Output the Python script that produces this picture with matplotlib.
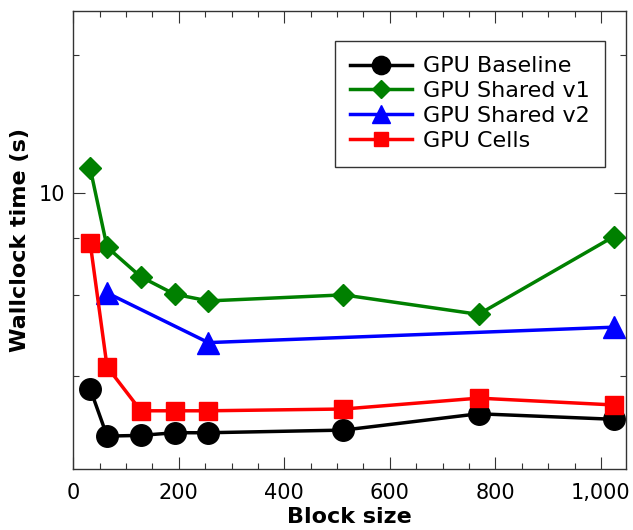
import numpy as np
import matplotlib
matplotlib.use('Agg')
import matplotlib.pyplot as plt
from matplotlib.ticker import LogLocator, NullFormatter, FixedLocator, FuncFormatter, MultipleLocator

# block sizes tested
block_all = [32, 64, 128, 192, 256, 512, 768, 1024]
block_v2 = [64, 256, 1024]

# wallclock times (s)
t_baseline = [3.74, 2.95, 2.96, 3.00, 3.00, 3.04, 3.30, 3.21]
t_shared_v1 = [11.34, 7.63, 6.57, 6.02, 5.82, 6.00, 5.44, 8.04]
t_shared_v2 = [6.06, 4.72, 5.10]
t_cells = [7.79, 4.18, 3.35, 3.35, 3.35, 3.38, 3.57, 3.45]

fig = plt.figure(figsize=(6.33, 5.30), dpi=100)
ax = fig.add_axes([0.1158, 0.1151, 0.8727, 0.8641])

lw = 2.5
ax.plot(block_all, t_baseline, '-', marker='o', color='black', lw=lw, ms=15.5, label='GPU Baseline')
ax.plot(block_all, t_shared_v1, '-', marker='D', color='green', lw=lw, ms=10.7, label='GPU Shared v1')
ax.plot(block_v2, t_shared_v2, '-', marker='^', color='blue', lw=lw, ms=16, label='GPU Shared v2')
ax.plot(block_all, t_cells, '-', marker='s', color='red', lw=lw, ms=12.7, label='GPU Cells')

ax.set_yscale('log')
ax.set_xlim(0, 1047)
ax.set_ylim(2.5, 25)

ax.xaxis.set_major_locator(MultipleLocator(200))
ax.xaxis.set_minor_locator(MultipleLocator(50))
ax.xaxis.set_major_formatter(FuncFormatter(lambda v, p: '{:,.0f}'.format(v)))
ax.yaxis.set_major_locator(FixedLocator([10]))
ax.yaxis.set_major_formatter(FuncFormatter(lambda v, p: '%d' % v))
ax.yaxis.set_minor_locator(LogLocator(base=10, subs=[2, 4, 6, 8]))
ax.yaxis.set_minor_formatter(NullFormatter())

ax.tick_params(which='both', direction='in', top=True, right=True, width=0.8, color='#333333')
ax.tick_params(which='major', length=8.5, labelsize=15)
ax.tick_params(which='minor', length=4.5)
ax.tick_params(axis='x', which='major', pad=10)
ax.tick_params(axis='y', which='major', pad=6)
for s in ax.spines.values():
    s.set_linewidth(1.0)
    s.set_color('#333333')

ax.set_xlabel('Block size', fontsize=16, fontweight='bold', labelpad=3)
ax.set_ylabel('Wallclock time (s)', fontsize=16, fontweight='bold', labelpad=6)

leg = ax.legend(loc='upper right', bbox_to_anchor=(0.9625, 0.935), borderaxespad=0,
                fontsize=16, fancybox=False, framealpha=1, edgecolor='#333333',
                handlelength=2.75, handletextpad=0.5, labelspacing=0.22,
                borderpad=0.7, markerscale=0.85)
leg.get_frame().set_linewidth(1.0)

fig.savefig('out.png', dpi=100)
